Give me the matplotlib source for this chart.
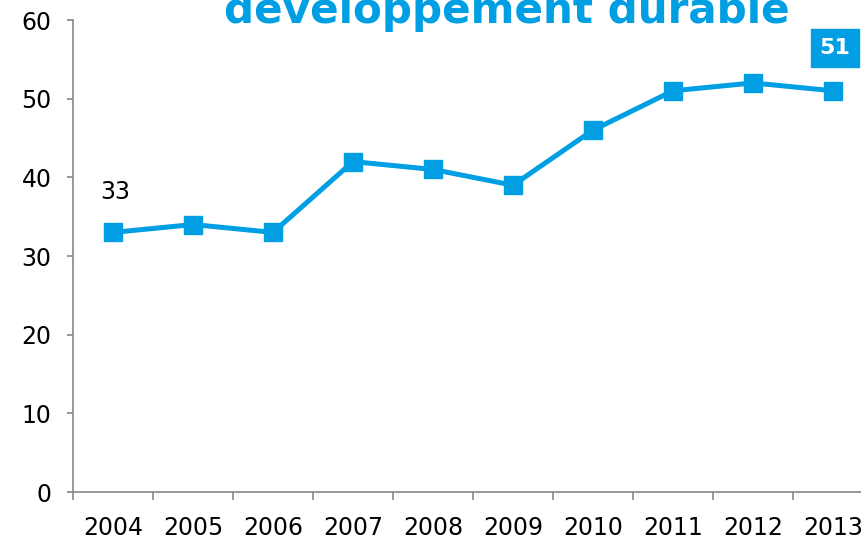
import matplotlib
matplotlib.use("Agg")
import matplotlib.pyplot as plt
from matplotlib.ticker import FixedLocator

years = ["2004", "2005", "2006", "2007", "2008", "2009", "2010", "2011", "2012", "2013"]
values = [33, 34, 33, 42, 41, 39, 46, 51, 52, 51]
title = "développement durable"
yticks = [0, 10, 20, 30, 40, 50, 60]

blue = "#009FE3"
plt.rcParams['font.family'] = ['DejaVu Sans']

fig = plt.figure(figsize=(8.61, 5.39), dpi=100)
ax = fig.add_axes([73/861, 47/539, 800/861, 472/539])
x = list(range(len(years)))
ax.plot(x, values, color=blue, lw=3.6, marker='s', ms=13, mec=blue, mfc=blue, clip_on=False, zorder=3)

ax.set_xlim(-0.5, len(years) - 0.5)
ax.set_ylim(0, 60)
ax.set_yticks(yticks)
ax.set_xticks(x)
ax.set_xticklabels(years)
ax.xaxis.set_minor_locator(FixedLocator([i - 0.5 for i in range(len(years) + 1)]))
ax.tick_params(axis='x', which='major', length=0, pad=17, labelsize=17)
ax.tick_params(axis='x', which='minor', length=5.5, color='#888888', width=1.2)
ax.tick_params(axis='y', length=4.5, color='#888888', width=1.2, labelsize=17, pad=11)
for s in ['top', 'right']:
    ax.spines[s].set_visible(False)
for s in ['left', 'bottom']:
    ax.spines[s].set_color('#888888')
    ax.spines[s].set_linewidth(1.2)

# first value label
ax.annotate(str(values[0]), (x[0], values[0]), xytext=(1.5, 29), textcoords='offset points',
            ha='center', va='center', fontsize=17, color='black')
# last value label in box
ax.annotate(str(values[-1]), (x[-1], values[-1]), xytext=(1.5, 31), textcoords='offset points',
            ha='center', va='center', fontsize=16, color='white', fontweight='bold',
            bbox=dict(boxstyle='square,pad=0.4', fc=blue, ec=blue), annotation_clip=False)

fig.text(507/861, 1 - 23/539, title, ha='center', va='baseline', fontsize=30.3,
         fontweight='bold', color=blue)

fig.savefig("out.png", dpi=100)
